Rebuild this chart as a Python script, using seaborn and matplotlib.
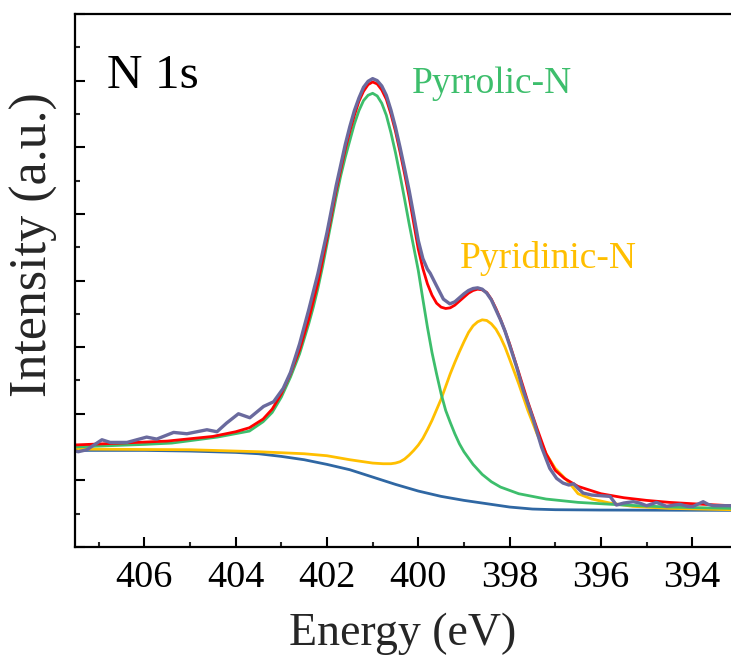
import matplotlib
matplotlib.use("Agg")
import matplotlib.pyplot as plt
import seaborn as sns
from matplotlib.ticker import MultipleLocator

# ---------------- data ----------------
raw_e = [407.6, 407.45, 407.26, 406.93, 406.75, 406.38, 405.95, 405.73, 405.36, 405.07,
         404.63, 404.41, 404.2, 403.94, 403.69, 403.39, 403.17, 402.96, 402.8, 402.6,
         402.4, 402.2, 402.0, 401.8, 401.6, 401.5, 401.4, 401.3, 401.2, 401.1,
         401.0, 400.9, 400.8, 400.7, 400.6, 400.5, 400.4, 400.3, 400.2, 400.1,
         400.0, 399.9, 399.8, 399.74, 399.6, 399.45, 399.31, 399.2, 399.1, 399.0,
         398.9, 398.8, 398.7, 398.6, 398.5, 398.4, 398.3, 398.2, 398.1, 398.0,
         397.85, 397.7, 397.48, 397.3, 397.12, 396.97, 396.83, 396.7, 396.6, 396.5,
         396.39, 396.2, 396.0, 395.8, 395.66, 395.5, 395.29, 395.15, 395.0, 394.78,
         394.56, 394.4, 394.27, 394.1, 393.98, 393.76, 393.65, 393.54, 393.15]
raw_i = [1.46, 1.43, 1.46, 1.61, 1.57, 1.57, 1.65, 1.62, 1.72, 1.70,
         1.76, 1.73, 1.86, 2.00, 1.94, 2.11, 2.18, 2.38, 2.62, 3.05,
         3.56, 4.10, 4.72, 5.42, 6.04, 6.31, 6.55, 6.74, 6.90, 6.99,
         7.03, 7.00, 6.92, 6.78, 6.56, 6.30, 6.00, 5.68, 5.35, 4.98,
         4.60, 4.33, 4.17, 4.11, 3.92, 3.72, 3.65, 3.68, 3.74, 3.80,
         3.85, 3.88, 3.89, 3.87, 3.81, 3.71, 3.56, 3.41, 3.24, 3.03,
         2.71, 2.35, 1.91, 1.50, 1.18, 1.03, 0.96, 0.93, 0.95, 0.88,
         0.81, 0.78, 0.77, 0.76, 0.63, 0.66, 0.68, 0.66, 0.62, 0.67,
         0.61, 0.63, 0.64, 0.61, 0.61, 0.68, 0.64, 0.62, 0.62]

fit_e = [407.6, 406.5, 405.5, 404.5, 404.0, 403.7, 403.4, 403.2, 403.0, 402.8,
         402.6, 402.4, 402.2, 402.0, 401.8, 401.6, 401.5, 401.4, 401.3, 401.2,
         401.1, 401.0, 400.9, 400.8, 400.7, 400.6, 400.5, 400.4, 400.3, 400.2,
         400.1, 400.0, 399.9, 399.8, 399.7, 399.6, 399.5, 399.4, 399.3, 399.2,
         399.1, 399.0, 398.9, 398.8, 398.7, 398.6, 398.5, 398.4, 398.3, 398.2,
         398.1, 398.0, 397.8, 397.6, 397.4, 397.2, 397.0, 396.8, 396.5, 396.0,
         395.5, 395.0, 394.5, 394.0, 393.15]
fit_i = [1.53, 1.56, 1.59, 1.66, 1.73, 1.79, 1.92, 2.07, 2.30, 2.60,
         2.96, 3.42, 3.96, 4.63, 5.35, 5.97, 6.24, 6.48, 6.69, 6.84,
         6.94, 6.98, 6.95, 6.86, 6.72, 6.50, 6.24, 5.93, 5.60, 5.25,
         4.86, 4.47, 4.18, 3.95, 3.78, 3.66, 3.60, 3.58, 3.59, 3.63,
         3.69, 3.75, 3.81, 3.85, 3.87, 3.86, 3.82, 3.72, 3.58, 3.42,
         3.24, 3.05, 2.62, 2.18, 1.78, 1.40, 1.15, 1.03, 0.91, 0.80,
         0.74, 0.70, 0.67, 0.65, 0.62]

pyrrolic_e = [407.6, 406.0, 405.4, 404.4, 403.7, 403.4, 403.2, 403.0, 402.8, 402.6,
              402.4, 402.3, 402.2, 402.1, 402.0, 401.9, 401.8, 401.7, 401.6, 401.5,
              401.4, 401.3, 401.2, 401.1, 401.0, 400.9, 400.8, 400.7, 400.6, 400.5,
              400.4, 400.3, 400.2, 400.1, 400.0, 399.9, 399.8, 399.7, 399.6, 399.5,
              399.4, 399.3, 399.2, 399.1, 399.0, 398.8, 398.6, 398.4, 398.2, 397.8,
              397.2, 396.5, 395.5, 394.5, 393.15]
pyrrolic_i = [1.50, 1.54, 1.56, 1.65, 1.74, 1.88, 2.02, 2.25, 2.55, 2.90,
              3.35, 3.60, 3.88, 4.20, 4.55, 4.90, 5.25, 5.57, 5.85, 6.10,
              6.35, 6.55, 6.70, 6.78, 6.81, 6.77, 6.66, 6.48, 6.22, 5.92,
              5.58, 5.22, 4.85, 4.50, 4.15, 3.72, 3.30, 2.92, 2.60, 2.30,
              2.05, 1.87, 1.70, 1.55, 1.43, 1.24, 1.09, 0.98, 0.90, 0.80,
              0.72, 0.67, 0.63, 0.60, 0.58]

pyridinic_e = [407.6, 405.0, 403.5, 402.5, 402.0, 401.5, 401.0, 400.77, 400.6, 400.5,
               400.4, 400.3, 400.2, 400.1, 400.0, 399.9, 399.8, 399.7, 399.6, 399.5,
               399.4, 399.3, 399.2, 399.1, 399.0, 398.9, 398.8, 398.7, 398.6, 398.5,
               398.4, 398.3, 398.2, 398.1, 398.0, 397.8, 397.6, 397.4, 397.2, 397.0,
               396.7, 396.5, 396.2, 395.8, 395.3, 394.5, 393.15]
pyridinic_i = [1.47, 1.46, 1.43, 1.40, 1.37, 1.31, 1.26, 1.25, 1.25, 1.26,
               1.28, 1.32, 1.38, 1.45, 1.53, 1.63, 1.76, 1.90, 2.06, 2.22,
               2.41, 2.60, 2.77, 2.93, 3.08, 3.22, 3.32, 3.38, 3.41, 3.40,
               3.35, 3.27, 3.15, 3.00, 2.82, 2.45, 2.05, 1.70, 1.40, 1.18,
               0.97, 0.80, 0.72, 0.66, 0.61, 0.58, 0.56]

bg_e = [407.6, 406.0, 405.0, 404.0, 403.5, 403.0, 402.5, 402.0, 401.5, 401.0,
        400.5, 400.0, 399.5, 399.0, 398.5, 398.0, 397.5, 397.0, 396.0, 393.15]
bg_i = [1.45, 1.45, 1.44, 1.42, 1.40, 1.36, 1.31, 1.24, 1.16, 1.05,
        0.94, 0.84, 0.76, 0.70, 0.65, 0.60, 0.57, 0.56, 0.555, 0.55]

x_ticks = [406, 404, 402, 400, 398, 396, 394]

# ---------------- style ----------------
sns.set_theme(style="ticks")
plt.rcParams["font.family"] = ["Liberation Serif", "DejaVu Serif"]

fig = plt.figure(figsize=(7.31, 6.57), dpi=100)
ax = fig.add_axes([0.1026, 0.1674, 0.8974, 0.8113])

c_raw = "#6A6A9E"
c_fit = "#FF0000"
c_pyrrolic = "#3DBE6C"
c_pyridinic = "#FFBF00"
c_bg = "#2F67A3"

line_kw = dict(sort=False, solid_joinstyle="round", solid_capstyle="round")
sns.lineplot(x=bg_e, y=bg_i, ax=ax, color=c_bg, lw=2.0, **line_kw)
sns.lineplot(x=pyridinic_e, y=pyridinic_i, ax=ax, color=c_pyridinic, lw=2.0, **line_kw)
sns.lineplot(x=pyrrolic_e, y=pyrrolic_i, ax=ax, color=c_pyrrolic, lw=2.0, **line_kw)
sns.lineplot(x=fit_e, y=fit_i, ax=ax, color=c_fit, lw=2.0, **line_kw)
sns.lineplot(x=raw_e, y=raw_i, ax=ax, color=c_raw, lw=2.4, **line_kw)

ax.set_xlim(407.52, 393.15)
ax.set_ylim(0, 8)
ax.set_xticks(x_ticks)
ax.set_xticklabels([str(t) for t in x_ticks])
ax.xaxis.set_minor_locator(MultipleLocator(1))
ax.yaxis.set_major_locator(MultipleLocator(1))
ax.yaxis.set_minor_locator(MultipleLocator(0.5))
ax.set_yticklabels([])

ax.tick_params(axis="both", which="major", direction="in", length=7.5, width=1.5,
               labelsize=27.5, pad=10, colors="black")
ax.tick_params(axis="both", which="minor", direction="in", length=3.8, width=1.5)
ax.tick_params(top=False, right=False, which="both")

for side in ["left", "bottom", "top"]:
    ax.spines[side].set_linewidth(1.6)
    ax.spines[side].set_color("black")
ax.spines["right"].set_visible(False)

ax.set_xlabel("Energy (eV)", fontsize=33, labelpad=12)
ax.set_ylabel("Intensity (a.u.)", fontsize=37.5)
ax.yaxis.set_label_coords(-0.026, 0.568)

ax.text(406.82, 6.89, "N 1s", fontsize=35.5, color="black", ha="left", va="baseline")
ax.text(400.14, 6.82, "Pyrrolic-N", fontsize=27, color=c_pyrrolic, ha="left", va="baseline")
ax.text(399.09, 4.19, "Pyridinic-N", fontsize=27, color=c_pyridinic, ha="left", va="baseline")

fig.savefig("out.png", dpi=100)
